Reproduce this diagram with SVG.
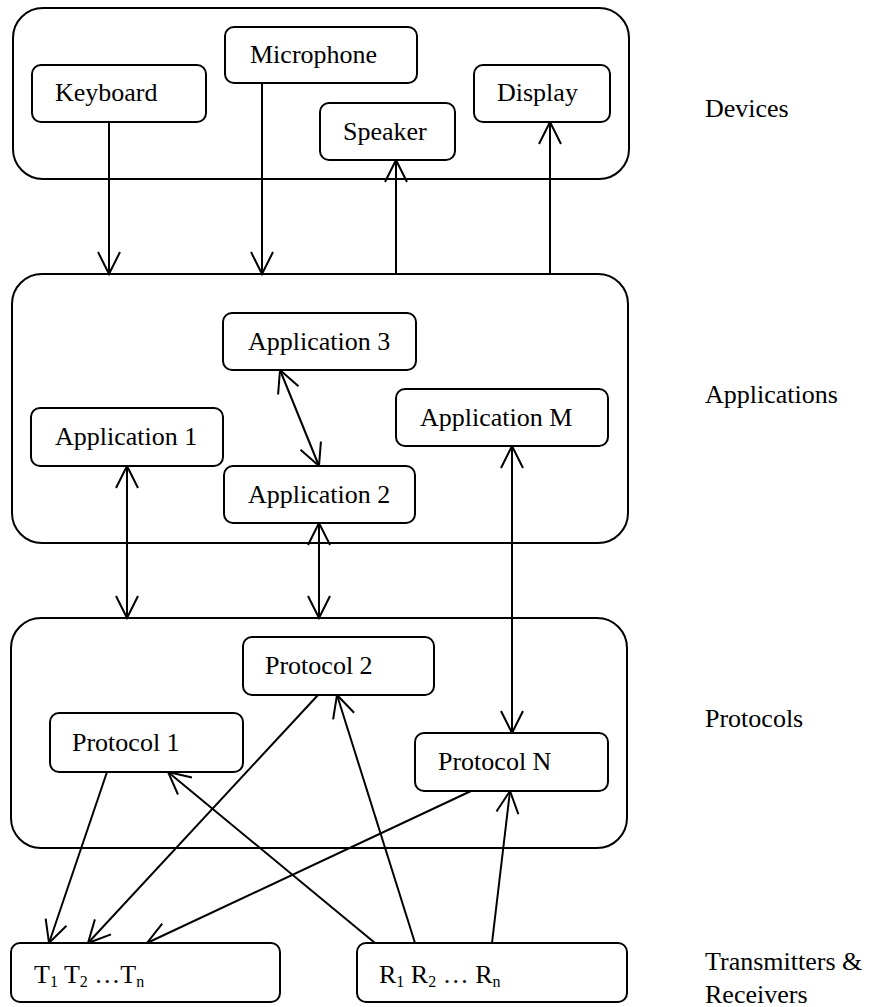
<svg xmlns="http://www.w3.org/2000/svg" width="869" height="1007" viewBox="0 0 869 1007">
<style>
  .outer { fill: none; stroke: #000; stroke-width: 2; }
  .box { fill: #fff; stroke: #000; stroke-width: 2; }
  .t { font-family: "Liberation Serif", "Times New Roman", serif; font-size: 26px; fill: #000; }
  .c { fill: none; stroke: #000; stroke-width: 2; marker-end: url(#ah); }
  .d { fill: none; stroke: #000; stroke-width: 2; marker-start: url(#ah); marker-end: url(#ah); }
</style>
<defs>
  <marker id="ah" markerUnits="userSpaceOnUse" markerWidth="30" markerHeight="30" viewBox="-26 -14 30 28" refX="0" refY="0" orient="auto-start-reverse" overflow="visible">
    <path d="M -22 -11 L 0 0 L -22 11" fill="none" stroke="#000" stroke-width="2"/>
  </marker>
</defs>
<rect width="869" height="1007" fill="#fff"/>

<g id="layer-devices">
  <rect class="outer" x="13" y="8" width="616" height="171" rx="30"/>
</g>
<g id="layer-applications">
  <rect class="outer" x="12" y="274" width="616" height="269" rx="30"/>
</g>
<g id="layer-protocols">
  <rect class="outer" x="11" y="618" width="616" height="230" rx="30"/>
</g>

<g id="connectors">
  <line class="c" x1="109" y1="122" x2="109" y2="274"/>
  <line class="c" x1="262" y1="83" x2="262" y2="274"/>
  <line class="c" x1="396" y1="274" x2="396" y2="160"/>
  <line class="c" x1="550" y1="274" x2="550" y2="122"/>
  <line class="d" x1="280" y1="370" x2="319" y2="466"/>
  <line class="d" x1="127" y1="466" x2="127" y2="618"/>
  <line class="d" x1="319" y1="523" x2="319" y2="618"/>
  <line class="d" x1="512" y1="446" x2="512" y2="733"/>
  <line class="c" x1="107" y1="772" x2="49" y2="943"/>
  <line class="c" x1="318" y1="695" x2="88" y2="943"/>
  <line class="c" x1="471" y1="791" x2="147" y2="943"/>
  <line class="c" x1="375" y1="943" x2="168" y2="772"/>
  <line class="c" x1="415" y1="943" x2="337" y2="695"/>
  <line class="c" x1="492" y1="943" x2="510" y2="791"/>
</g>

<g id="keyboard"><rect class="box" x="32" y="65" width="174" height="57" rx="9"/><text class="t" x="55" y="101">Keyboard</text></g>
<g id="microphone"><rect class="box" x="225" y="27" width="192" height="56" rx="9"/><text class="t" x="250" y="63">Microphone</text></g>
<g id="speaker"><rect class="box" x="320" y="103" width="135" height="57" rx="9"/><text class="t" x="343" y="140">Speaker</text></g>
<g id="display"><rect class="box" x="474" y="65" width="136" height="57" rx="9"/><text class="t" x="497" y="101">Display</text></g>

<g id="app3"><rect class="box" x="223" y="313" width="193" height="57" rx="9"/><text class="t" x="248" y="350">Application 3</text></g>
<g id="app1"><rect class="box" x="31" y="408" width="192" height="58" rx="9"/><text class="t" x="55" y="445">Application 1</text></g>
<g id="appM"><rect class="box" x="396" y="389" width="212" height="57" rx="9"/><text class="t" x="420" y="426">Application M</text></g>
<g id="app2"><rect class="box" x="224" y="466" width="191" height="57" rx="9"/><text class="t" x="248" y="503">Application 2</text></g>

<g id="protocol2"><rect class="box" x="243" y="637" width="191" height="58" rx="9"/><text class="t" x="265" y="674">Protocol 2</text></g>
<g id="protocol1"><rect class="box" x="50" y="713" width="193" height="59" rx="9"/><text class="t" x="72" y="751">Protocol 1</text></g>
<g id="protocolN"><rect class="box" x="415" y="733" width="193" height="58" rx="9"/><text class="t" x="438" y="770">Protocol N</text></g>

<g id="transmitters"><rect class="box" x="11" y="943" width="269" height="59" rx="9"/><text class="t" x="34" y="983">T<tspan font-size="16" dy="4">1</tspan><tspan dy="-4"> T</tspan><tspan font-size="16" dy="4">2</tspan><tspan dy="-4"> …T</tspan><tspan font-size="16" dy="4">n</tspan></text></g>
<g id="receivers"><rect class="box" x="357" y="943" width="270" height="59" rx="9"/><text class="t" x="379" y="983">R<tspan font-size="16" dy="4">1</tspan><tspan dy="-4"> R</tspan><tspan font-size="16" dy="4">2</tspan><tspan dy="-4"> … R</tspan><tspan font-size="16" dy="4">n</tspan></text></g>

<g id="labels">
  <text class="t" x="705" y="117">Devices</text>
  <text class="t" x="705" y="403">Applications</text>
  <text class="t" x="705" y="727">Protocols</text>
  <text class="t" x="705" y="970">Transmitters &amp;</text>
  <text class="t" x="705" y="1003">Receivers</text>
</g>
</svg>
